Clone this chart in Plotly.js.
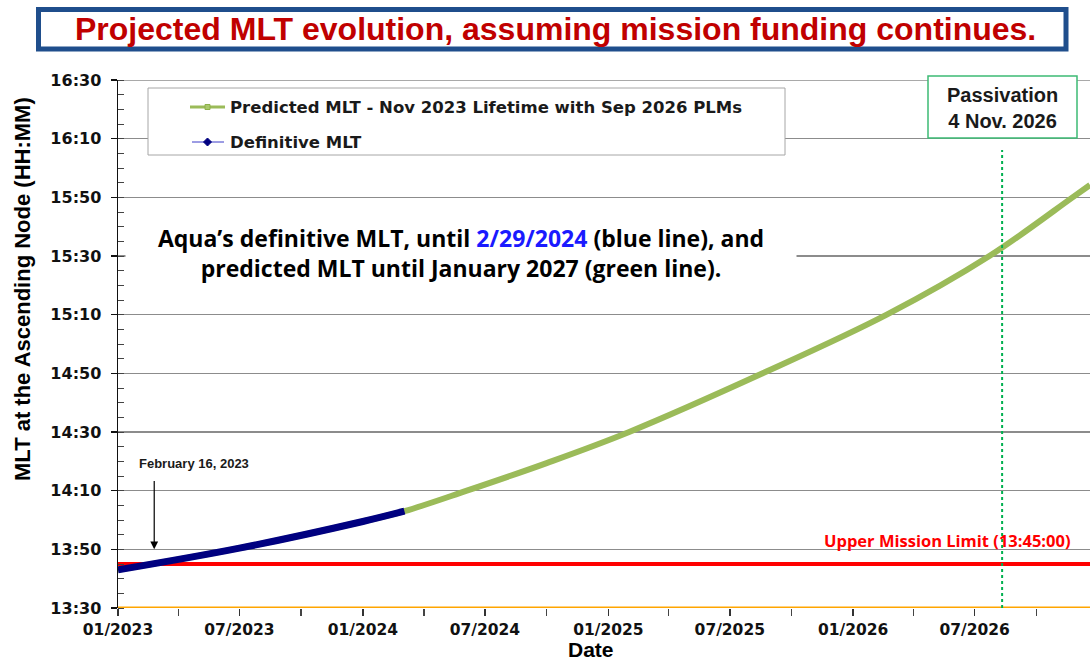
<!DOCTYPE html>
<html><head><meta charset="utf-8">
<script src="https://cdn.plot.ly/plotly-3.0.1.min.js"></script>
<style>html,body{margin:0;padding:0;background:#fff}#chart{width:1090px;height:658px}</style>
</head><body><div id="chart"></div>
<script>
// ---- data ----
const predictedDates = ['2023-01-01','2023-07-01','2024-01-01','2024-03-03','2024-06-04','2024-10-01','2025-02-01','2025-08-19','2026-02-20','2026-07-23','2026-11-24','2026-12-20'];
const predictedMLT   = ['13:43:00','13:50:24','13:59:30','14:03:00','14:10:00','14:19:24','14:30:00','14:50:00','15:10:00','15:30:00','15:50:00','15:54:12'];
const definitiveDates = ['2023-01-01','2023-07-01','2024-01-01','2024-03-03'];
const definitiveMLT   = ['13:43:00','13:50:24','13:59:30','14:03:00'];
const upperLimitMLT = '13:45:00';
const axisBottomMLT = '13:30:00';
const axisTopMLT = '16:30:00';
const passivationLineDate = '2026-08-11';
const xRange = ['2023-01-01','2026-12-20'];
const yRange = ['13:30:00','16:30:00'];
const predictedName = 'Predicted MLT - Nov 2023 Lifetime with Sep 2026 PLMs';
const definitiveName = 'Definitive MLT';
const titleText = 'Projected MLT evolution, assuming mission funding continues.';
const noteText = 'Aqua\u2019s definitive MLT, until <span style="color:#1a1aff">2/29/2024</span> (blue line), and<br>predicted MLT until January 2027 (green line).';
const limitLabel = 'Upper Mission Limit (13:45:00)';
const passivationLabel = 'Passivation<br>4 Nov. 2026';
const arrowLabel = 'February 16, 2023';
const arrowDate = '2023-02-24';

// ---- helpers ----
const T = s => '2000-01-01 ' + s;
const L = 118, R = 1090, TOP = 80, BOT = 608;
const px = x => (x - L) / (R - L);
const py = y => (BOT - y) / (BOT - TOP);

const traces = [
  {type:'scatter', mode:'lines', x: predictedDates, y: predictedMLT.map(T), name: predictedName,
   line:{color:'#9BBB59', width:6, shape:'spline', smoothing:1}, showlegend:false, hoverinfo:'x+y'},
  {type:'scatter', mode:'lines', x: definitiveDates, y: definitiveMLT.map(T), name: definitiveName,
   line:{color:'#000080', width:7, shape:'spline', smoothing:1}, showlegend:false, hoverinfo:'x+y'}
];

const arial = 'Liberation Sans, Arial, sans-serif';
const dejavu = 'DejaVu Sans, sans-serif';
const calib = 'Open Sans, sans-serif';

const dx = 4/(R-L), dy = 4/(BOT-TOP);
const shapes = [
  {type:'line', xref:'paper', x0:0, x1:1, yref:'y', y0:T(axisTopMLT), y1:T(axisTopMLT), line:{color:'#8C8C8C', width:1.5}, layer:'below'},
  {type:'line', xref:'paper', x0:0, x1:1, yref:'y', y0:T(upperLimitMLT), y1:T(upperLimitMLT), line:{color:'#FF0000', width:4}, layer:'below'},
  {type:'line', xref:'paper', x0:0, x1:1, yref:'y', y0:T(axisBottomMLT), y1:T(axisBottomMLT), line:{color:'#FFA500', width:3}, layer:'above'},
  {type:'line', xref:'x', x0:passivationLineDate, x1:passivationLineDate, yref:'paper', y0:0, y1:py(150), line:{color:'#00B050', width:2, dash:'dot'}, layer:'above'},
  // title frame
  {type:'rect', xref:'paper', yref:'paper', x0:px(38.5), x1:px(1066), y0:py(49), y1:py(9.5), line:{color:'#1F4E8C', width:5}, fillcolor:'#fff', layer:'above'},
  // legend frame and keys
  {type:'rect', xref:'paper', yref:'paper', x0:px(148), x1:px(785), y0:py(155), y1:py(88), line:{color:'#A6A6A6', width:1}, fillcolor:'#fff', layer:'above'},
  {type:'line', xref:'paper', yref:'paper', x0:px(190), x1:px(225), y0:py(107), y1:py(107), line:{color:'#9BBB59', width:3}, layer:'above'},
  {type:'rect', xref:'paper', yref:'paper', x0:px(205), x1:px(210), y0:py(109.5), y1:py(104.5), line:{color:'#8DB04A', width:1}, fillcolor:'#A9C96B', layer:'above'},
  {type:'line', xref:'paper', yref:'paper', x0:px(192), x1:px(224), y0:py(142), y1:py(142), line:{color:'#3A3AC8', width:1}, layer:'above'},
  {type:'path', xref:'paper', yref:'paper', path:`M ${px(207.5)-dx},${py(142)} L ${px(207.5)},${py(142)+dy} L ${px(207.5)+dx},${py(142)} L ${px(207.5)},${py(142)-dy} Z`, line:{color:'#000080', width:1}, fillcolor:'#000080', layer:'above'},
  // passivation box
  {type:'rect', xref:'paper', yref:'paper', x0:px(928), x1:px(1077), y0:py(138), y1:py(76), line:{color:'#3DBB74', width:1.5}, fillcolor:'#fff', layer:'above'}
];

const annotations = [
  {xref:'paper', yref:'paper', x:px(555), y:py(29.5), text:titleText, showarrow:false, xanchor:'center', yanchor:'middle',
   font:{family:arial, size:32, weight:'bold', color:'#C00000'}},
  {xref:'paper', yref:'paper', x:px(228), y:py(107), text:predictedName, showarrow:false, xanchor:'left', yanchor:'middle',
   font:{family:dejavu, size:16.5, weight:'bold', color:'#1a1a1a'}},
  {xref:'paper', yref:'paper', x:px(228), y:py(142), text:definitiveName, showarrow:false, xanchor:'left', yanchor:'middle',
   font:{family:dejavu, size:16.5, weight:'bold', color:'#1a1a1a'}},
  {xref:'paper', yref:'paper', x:px(460.5), y:py(253), text:noteText, showarrow:false, xanchor:'center', yanchor:'middle',
   width:668, height:72, bgcolor:'#fff', align:'center',
   font:{family:calib, size:23, weight:'bold', color:'#000'}},
  {xref:'paper', yref:'paper', x:px(1073), y:py(540), text:limitLabel, showarrow:false, xanchor:'right', yanchor:'middle',
   font:{family:calib, size:16.5, weight:'bold', color:'#FF0000'}},
  {xref:'paper', yref:'paper', x:px(1002.5), y:py(107.5), text:passivationLabel, showarrow:false, xanchor:'center', yanchor:'middle',
   font:{family:arial, size:20, weight:'bold', color:'#1a1a1a'}},
  {xref:'paper', yref:'paper', x:px(194), y:py(463), text:arrowLabel, showarrow:false, xanchor:'center', yanchor:'middle',
   font:{family:arial, size:13, weight:'bold', color:'#1a1a1a'}},
  {xref:'x', yref:'y', x:arrowDate, y:T('13:50:00'), axref:'x', ayref:'y', ax:arrowDate, ay:T('14:13:50'), text:'', showarrow:true,
   arrowhead:2, arrowsize:1.3, arrowwidth:1.2, arrowcolor:'#000', standoff:0, startstandoff:0},
  {xref:'paper', yref:'paper', x:px(591), y:py(649), text:'Date', showarrow:false, xanchor:'center', yanchor:'middle',
   font:{family:arial, size:21, weight:'bold', color:'#000'}},
  {xref:'paper', yref:'paper', x:px(22), y:py(289), text:'MLT at the Ascending Node (HH:MM)', textangle:-90, showarrow:false, xanchor:'center', yanchor:'middle',
   font:{family:arial, size:22, weight:'bold', color:'#000'}}
];

const layout = {
  width:1090, height:658,
  margin:{l:L, r:1090-R, t:TOP, b:658-BOT, pad:0},
  paper_bgcolor:'#fff', plot_bgcolor:'#fff',
  showlegend:false,
  xaxis:{type:'date', range:xRange, tick0:'2023-01-01', dtick:'M6', tickformat:'%m/%Y',
    showgrid:false, showline:false, zeroline:false,
    ticks:'outside', ticklen:7, tickwidth:1.5, tickcolor:'#333', ticklabelstandoff:0,
    tickfont:{family:dejavu, size:15.5, weight:'bold', color:'#111'},
    minor:{dtick:'M3', ticks:'outside', ticklen:7, tickwidth:1.5, tickcolor:'#444', showgrid:false}},
  yaxis:{type:'date', range:yRange.map(T), tick0:T('13:30:00'), dtick:1200000, tickformat:'%H:%M',
    showgrid:true, gridcolor:'#8C8C8C', gridwidth:1.5, zeroline:false,
    showline:true, linecolor:'#111', linewidth:1.5,
    ticks:'outside', ticklen:6, tickwidth:1.5, tickcolor:'#111', ticklabelstandoff:6,
    tickfont:{family:dejavu, size:16, weight:'bold', color:'#111'},
    minor:{dtick:300000, ticks:'inside', ticklen:6, tickwidth:1, tickcolor:'#444', showgrid:false}},
  shapes:shapes,
  annotations:annotations
};

Plotly.newPlot('chart', traces, layout, {displayModeBar:false, staticPlot:true});
</script>
</body></html>
